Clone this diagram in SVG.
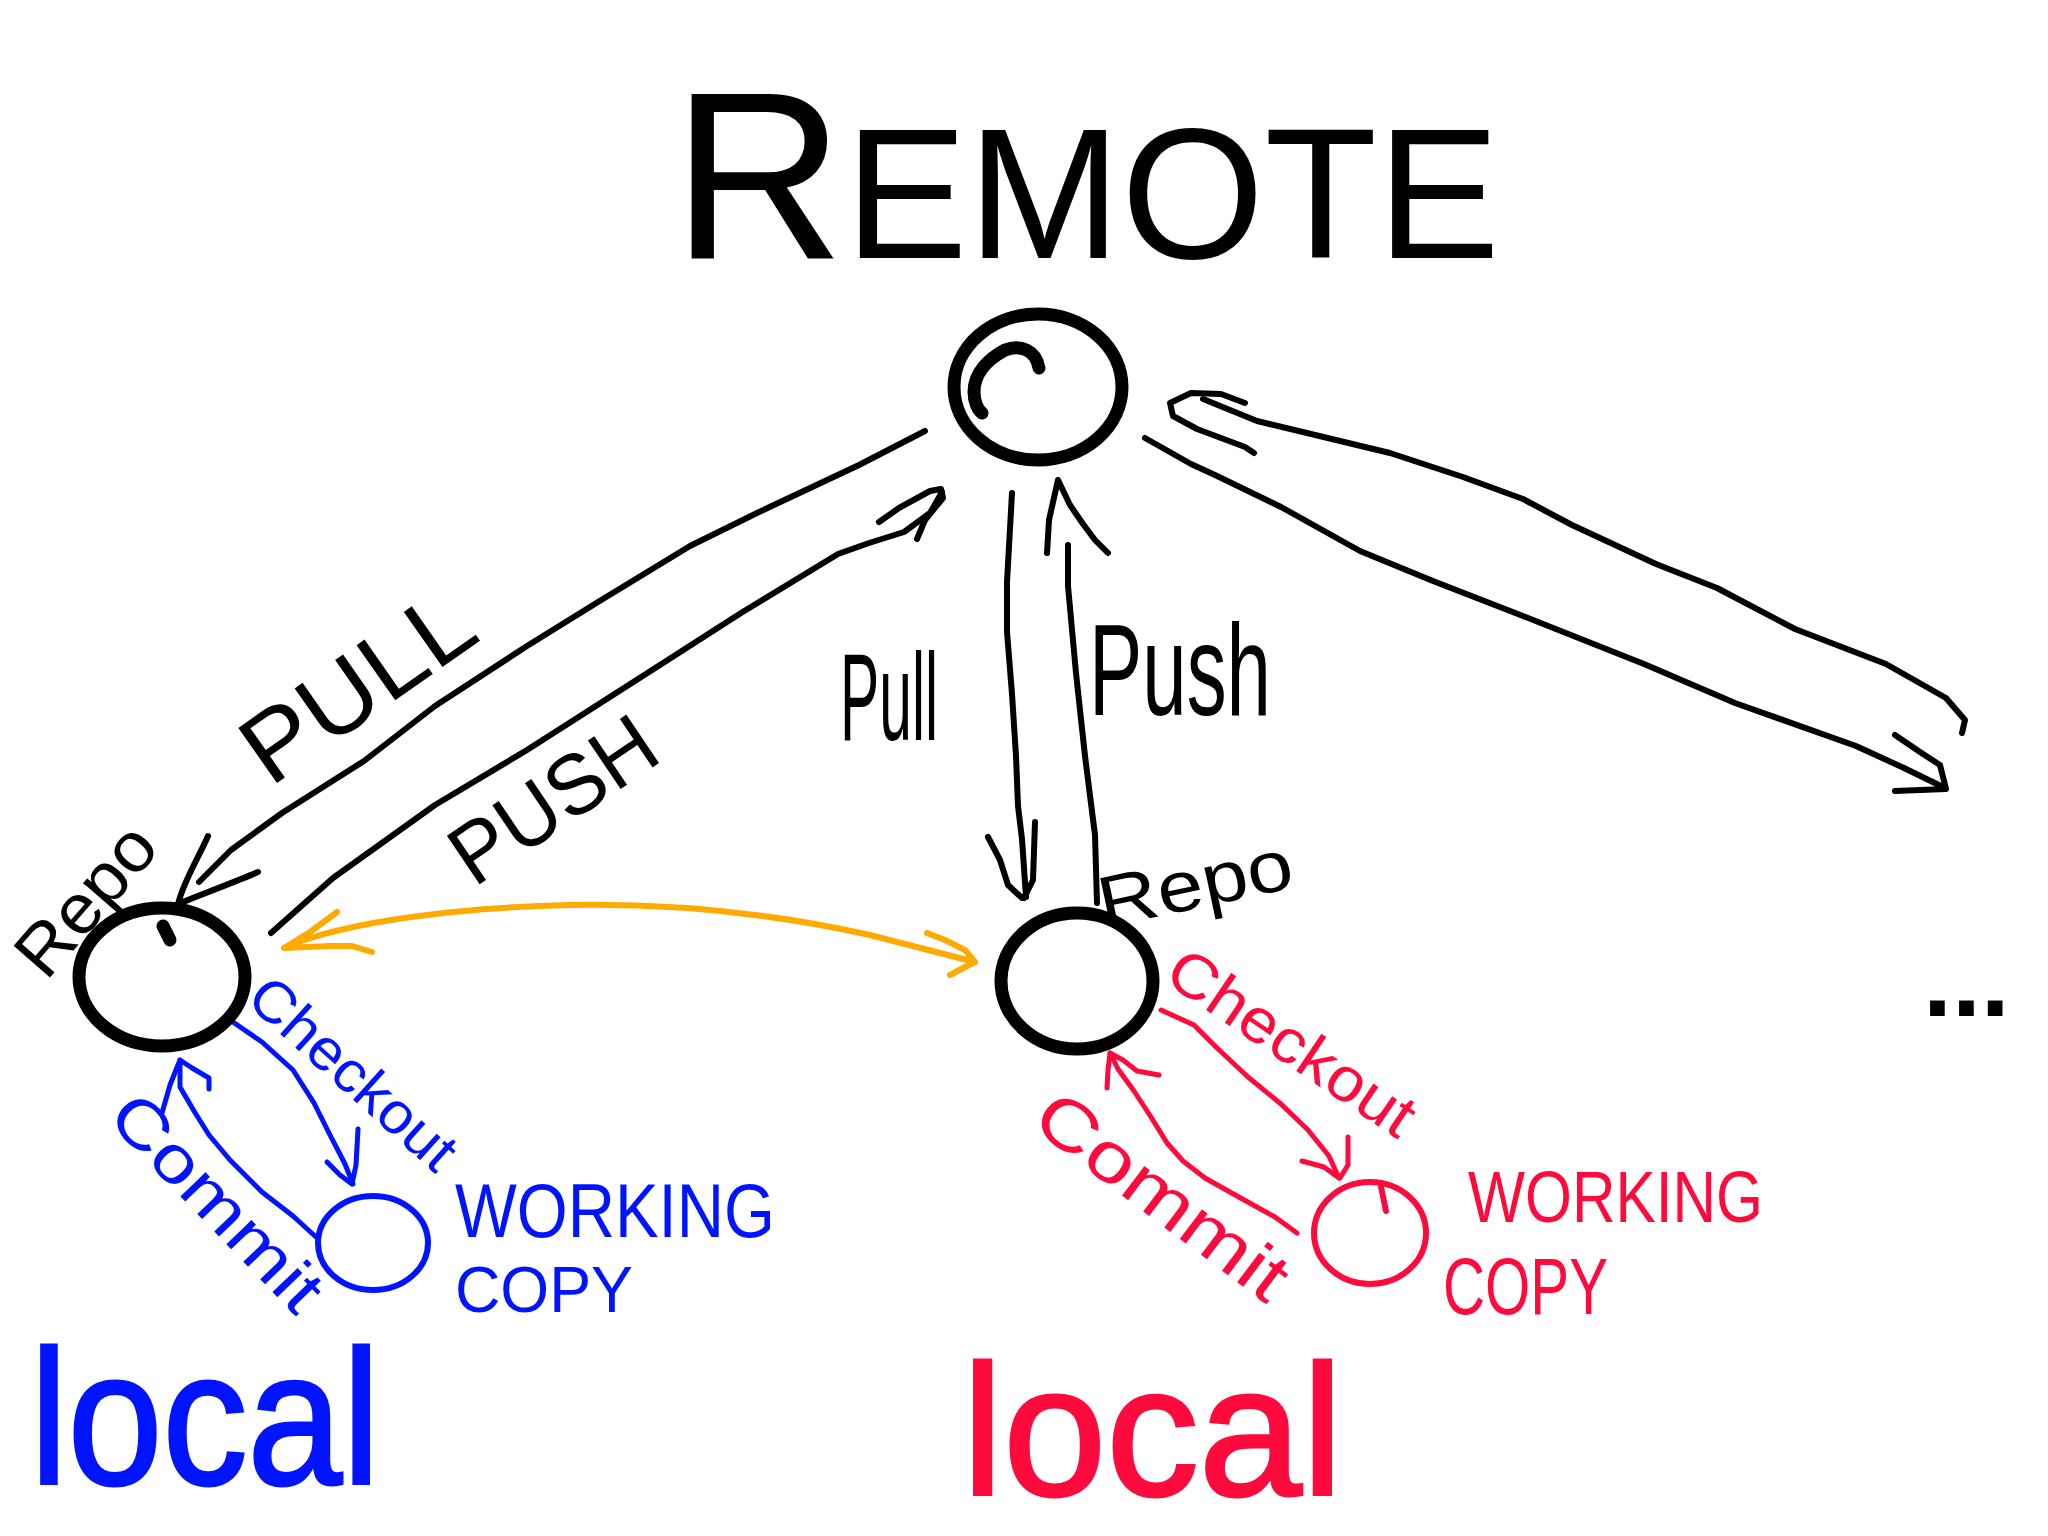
<svg xmlns="http://www.w3.org/2000/svg" width="2048" height="1536" viewBox="0 0 2048 1536">
<style>
  .bg{fill:#fff}
  .ink{fill:none;stroke:#000;stroke-width:6;stroke-linecap:round;stroke-linejoin:round}
  .node{fill:none;stroke:#000;stroke-width:13;stroke-linecap:round}
  .b{stroke:#0014ff}
  .r{stroke:#ff0a3c}
  .o{stroke:#ffaa00;stroke-width:6}
  .thin{stroke-width:5}
  .t{font-family:"Liberation Sans",Arial,sans-serif;fill:#000}
  .tb{fill:#0014ff}
  .tr{fill:#ff0a3c}
</style>
<rect class="bg" x="0" y="0" width="2048" height="1536"/>

<text id="title" class="t" x="672" y="258" font-size="185" textLength="828" lengthAdjust="spacingAndGlyphs"><tspan font-size="240">R</tspan>EMOTE</text>

<g id="connectors">
  <!-- PULL: remote -> left repo -->
  <path class="ink" d="M925,431 L859,465 L757,513 L690,546 L598,602 L527,646 L435,706 L364,761 L282,813 L231,850 L199,882"/>
  <path class="ink" d="M208,836 C200,855 184,880 178,904 C200,895 240,880 258,872"/>
  <!-- PUSH: left repo -> remote -->
  <path class="ink" d="M271,933 L333,878 L435,805 L527,750 L649,672 L741,613 L838,554 L869,543 L904,532 L930,513 L942,492"/>
  <path class="ink" d="M879,522 L899,508 L930,491 L941,489 L943,498 L925,520 L917,539"/>
  <!-- Pull: remote -> middle repo -->
  <path class="ink" d="M1012,493 L1007,582 L1007,632 L1012,694 L1016,756 L1018,806 L1022,839 L1026,897"/>
  <path class="ink" d="M988,837 L1000,860 L1008,885 L1022,898 M1035,822 L1033,880 L1024,898"/>
  <!-- Push: middle repo -> remote -->
  <path class="ink" d="M1097,903 L1095,835 L1085,756 L1076,673 L1068,586 L1068,545"/>
  <path class="ink" d="M1047,553 L1049,520 L1058,480 L1070,505 L1083,524 L1095,540 L1108,553"/>
  <!-- remote <-> further repos (right) -->
  <path class="ink" d="M1245,403 L1221,394 L1191,393 L1170,403 L1173,416 L1197,429 L1221,438 L1245,447 L1254,453"/>
  <path class="ink" d="M1203,399 L1257,421 L1390,453 L1463,477 L1523,499 L1572,525 L1656,564 L1717,588 L1795,629 L1886,664 L1946,698 L1965,720 L1962,733"/>
  <path class="ink" d="M1145,438 L1191,464 L1215,475 L1281,507 L1360,551 L1433,581 L1523,616 L1644,664 L1735,703 L1856,746 L1904,768 L1943,787"/>
  <path class="ink" d="M1895,735 L1920,752 L1940,765 L1946,789 L1895,791"/>
  <!-- orange repo <-> repo -->
  <path class="ink o" d="M290,945 C350,922 450,908 570,905 C680,903 780,915 870,935 L975,962"/>
  <path class="ink o" d="M337,912 L310,932 L284,948 L330,946 L352,946 L372,952"/>
  <path class="ink o" d="M927,933 L945,940 L965,950 L975,962 L963,968 L950,975"/>
  <!-- blue checkout / commit -->
  <path class="ink b thin" d="M230,1020 L262,1042 L293,1070 L314,1103 L330,1135 L345,1164 L353,1184"/>
  <path class="ink b thin" d="M327,1162 L340,1175 L352,1184 M358,1129 L356,1165 L352,1184"/>
  <path class="ink b thin" d="M316,1237 L293,1216 L262,1192 L230,1160 L209,1135 L194,1111 L180,1087 L180,1060"/>
  <path class="ink b thin" d="M162,1113 L170,1085 L180,1060 L192,1068 L209,1078 L209,1089"/>
  <!-- red checkout / commit -->
  <path class="ink r thin" d="M1161,1010 L1194,1025 L1216,1047 L1248,1077 L1281,1104 L1308,1130 L1329,1156 L1338,1176"/>
  <path class="ink r thin" d="M1302,1161 L1324,1167 L1339,1178 M1348,1137 L1348,1165 L1340,1178"/>
  <path class="ink r thin" d="M1297,1233 L1275,1217 L1237,1196 L1205,1178 L1183,1161 L1167,1143 L1151,1117 L1134,1091 L1118,1069 L1110,1053"/>
  <path class="ink r thin" d="M1107,1088 L1108,1070 L1110,1053 L1123,1060 L1137,1071 L1159,1075"/>

  <!-- labels -->
  <text class="t" x="270" y="788" font-size="98" textLength="260" lengthAdjust="spacingAndGlyphs" transform="rotate(-35 270 788)">PULL</text>
  <text class="t" x="474" y="888" font-size="85" textLength="230" lengthAdjust="spacingAndGlyphs" transform="rotate(-34 474 888)">PUSH</text>
  <text class="t" x="840" y="740" font-size="125" textLength="98" lengthAdjust="spacingAndGlyphs">Pull</text>
  <text class="t" x="1089" y="715" font-size="130" textLength="182" lengthAdjust="spacingAndGlyphs">Push</text>
  <text class="t tb" x="340" y="1088" font-size="58" text-anchor="middle" textLength="258" lengthAdjust="spacingAndGlyphs" transform="rotate(42 340 1088)">Checkout</text>
  <text class="t tb" x="201" y="1218" font-size="66" text-anchor="middle" textLength="275" lengthAdjust="spacingAndGlyphs" transform="rotate(46 201 1218)">Commit</text>
  <text class="t tr" x="1280" y="1060" font-size="62" text-anchor="middle" textLength="285" lengthAdjust="spacingAndGlyphs" transform="rotate(34 1280 1060)">Checkout</text>
  <text class="t tr" x="1148" y="1215" font-size="70" text-anchor="middle" textLength="298" lengthAdjust="spacingAndGlyphs" transform="rotate(37 1148 1215)">Commit</text>
</g>

<g id="node-remote">
  <ellipse class="node" cx="1038" cy="387" rx="84" ry="73"/>
  <path class="node" stroke-width="11" d="M1039,368 C1036,350 1020,344 1005,350 C990,358 974,372 974,392 C974,402 978,410 982,413"/>
</g>

<g id="node-repo-left">
  <ellipse class="node" stroke-width="14" cx="162" cy="977" rx="83" ry="69"/>
  <path class="node" stroke-width="8" d="M163,926 L170,940"/>
  <text class="t" x="46" y="982" font-size="70" textLength="176" lengthAdjust="spacingAndGlyphs" transform="rotate(-49 46 982)">Repo</text>
</g>

<g id="node-repo-mid">
  <ellipse class="node" stroke-width="14" cx="1077" cy="981" rx="76" ry="68"/>
  <text class="t" x="1104" y="928" font-size="72" textLength="197" lengthAdjust="spacingAndGlyphs" transform="rotate(-12 1104 928)">Repo</text>
</g>

<g id="node-working-copy-blue">
  <ellipse class="ink b" cx="373" cy="1243" rx="55" ry="47"/>
  <text class="t tb" x="455" y="1237" font-size="76" textLength="320" lengthAdjust="spacingAndGlyphs">WORKING</text>
  <text class="t tb" x="455" y="1312" font-size="64" textLength="178" lengthAdjust="spacingAndGlyphs">COPY</text>
</g>

<g id="node-working-copy-red">
  <ellipse class="ink r" cx="1370" cy="1233" rx="56" ry="51"/>
  <path class="ink r" d="M1381,1187 L1386,1211"/>
  <text class="t tr" x="1468" y="1222" font-size="72" textLength="295" lengthAdjust="spacingAndGlyphs">WORKING</text>
  <text class="t tr" x="1443" y="1314" font-size="80" textLength="165" lengthAdjust="spacingAndGlyphs">COPY</text>
</g>

<g id="label-local-blue">
  <text class="t tb" x="30" y="1484" font-size="192" stroke="#0014ff" stroke-width="3" textLength="350" lengthAdjust="spacingAndGlyphs">local</text>
</g>
<g id="label-local-red">
  <text class="t tr" x="962" y="1495" font-size="185" stroke="#ff0a3c" stroke-width="3" textLength="381" lengthAdjust="spacingAndGlyphs">local</text>
</g>

<g id="label-more">
  <text class="t" x="1923" y="1016" font-size="104" font-weight="bold">...</text>
</g>
</svg>
